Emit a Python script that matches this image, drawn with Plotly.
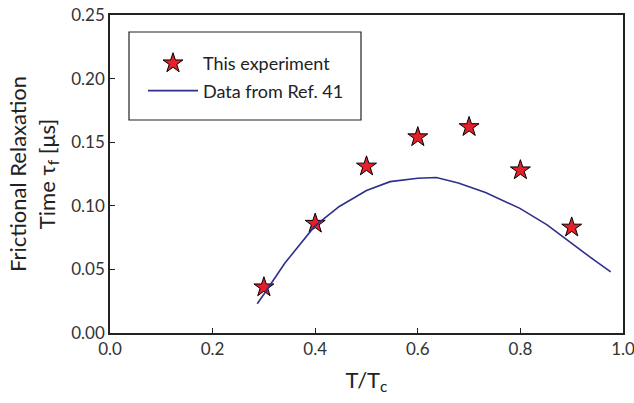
import plotly.graph_objects as go

exp_x = [0.3, 0.4, 0.5, 0.6, 0.7, 0.8, 0.9]
exp_y = [0.036, 0.086, 0.131, 0.154, 0.162, 0.128, 0.083]

ref_x = [0.287, 0.301, 0.341, 0.399, 0.447, 0.5, 0.546, 0.6, 0.636, 0.679, 0.732, 0.799, 0.852, 0.898, 0.938, 0.976]
ref_y = [0.023, 0.031, 0.055, 0.084, 0.0995, 0.112, 0.119, 0.1217, 0.1223, 0.118, 0.1105, 0.098, 0.085, 0.0707, 0.059, 0.048]

x_ticks = [0.0, 0.2, 0.4, 0.6, 0.8, 1.0]
y_ticks = [0.00, 0.05, 0.10, 0.15, 0.20, 0.25]

FONT = "Lato"

fig = go.Figure()
fig.add_trace(go.Scatter(
    x=exp_x, y=exp_y, mode="markers", name="This experiment",
    marker=dict(symbol="star", size=15, color="#e3202b", line=dict(color="black", width=1)),
    legendgroup="a",
))
fig.add_trace(go.Scatter(
    x=ref_x, y=ref_y, mode="lines", name="Data from Ref. 41",
    line=dict(color="#2e2f8a", width=1.6),
    legendgroup="b",
))

axis_common = dict(
    showline=True, linecolor="#222", linewidth=1.5, mirror=True,
    ticks="inside", ticklen=5, tickcolor="#222", showgrid=False, zeroline=False,
    tickfont=dict(family=FONT, size=17, color="#333"), automargin=False,
    ticklabeloverflow="allow",
)

fig.update_layout(
    width=634, height=403,
    margin=dict(l=110, r=11, t=15, b=70),
    paper_bgcolor="white", plot_bgcolor="white",
    font=dict(family=FONT),
    xaxis=dict(range=[0, 1.0], tickvals=x_ticks, ticktext=[f"{v:.1f}" for v in x_ticks],
               title=dict(text="T/T<sub>c</sub>", font=dict(family=FONT, size=22, color="#222"), standoff=14),
               **axis_common),
    yaxis=dict(range=[0, 0.25], tickvals=y_ticks, ticktext=[f"{v:.2f}" for v in y_ticks],
               title=dict(text="Frictional Relaxation<br>Time τ<sub>f</sub> [μs]", font=dict(family=FONT, size=22, color="#222"), standoff=10),
               **axis_common),
    showlegend=True,
    legend=dict(x=(143 - 110) / 513, y=(333 - 45) / 318, xanchor="left", yanchor="top",
                bgcolor="rgba(0,0,0,0)", borderwidth=0,
                font=dict(family=FONT, size=18, color="#222"),
                tracegroupgap=1, itemwidth=50),
    shapes=[dict(type="rect", xref="paper", yref="paper",
                 x0=(129 - 110) / 513, x1=(361 - 110) / 513,
                 y0=(333 - 120) / 318, y1=(333 - 32) / 318,
                 line=dict(color="#222", width=1.2), fillcolor="rgba(0,0,0,0)", layer="below")],
)

fig.write_html("out.html", config={"displayModeBar": False},
               post_script="document.body.style.margin='0';document.body.style.overflow='hidden';")
